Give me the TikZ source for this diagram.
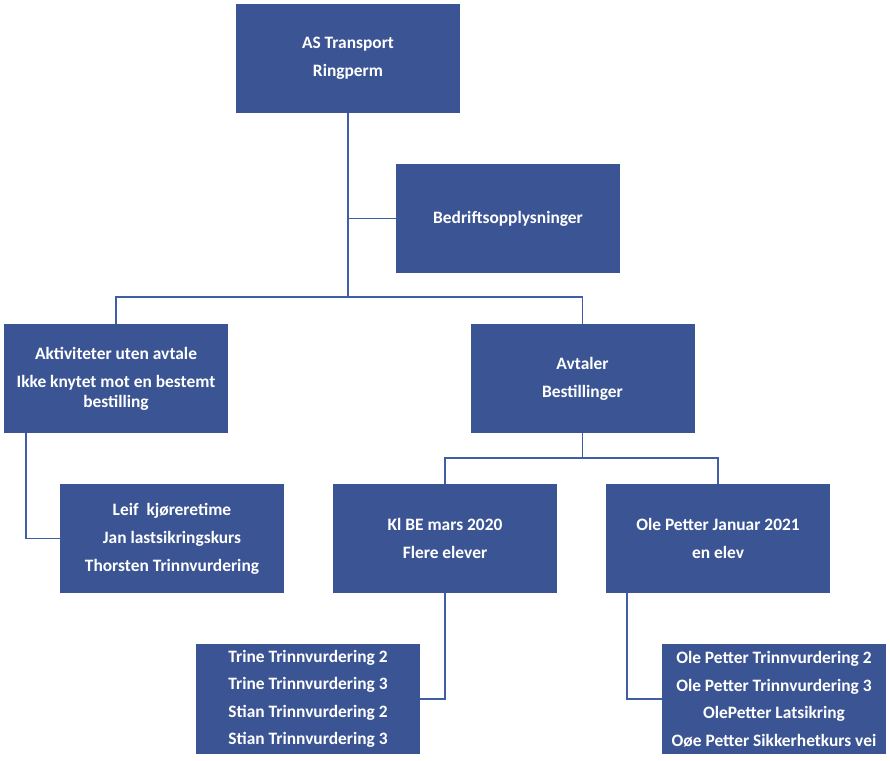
\documentclass[tikz,border=0pt]{standalone}
\usepackage{fontspec}
\setmainfont{Carlito}
\definecolor{CB}{HTML}{3B5494}
\definecolor{CL}{HTML}{3F5EA6}
\tikzset{
	box/.style = {draw=none, fill=CB, text=white, minimum width=224pt, minimum height=109pt,
		inner sep=0pt, align=center, font=\fontsize{17.4}{20}\selectfont\bfseries},
	ln/.style  = {draw=CL, line width=1.6pt},
}

\begin{document}
\begin{tikzpicture}[x=1pt, y=1pt]
	
	\useasboundingbox (0,0) rectangle (890,-760);
	
	%%═══════════════════════════════════════════════════════════════════
	%% BOXES  (centres in px of the 890 x 760 frame)
	%%═══════════════════════════════════════════════════════════════════
	
	%% top level ───────────────────────────────────────────────────────
	\node[box] (root) at (348, -58.5) {AS Transport\\[8pt] Ringperm};
	\node[box] (bed)  at (508, -218.5){Bedriftsopplysninger};
	
	%% second level ────────────────────────────────────────────────────
	\node[box] (akt) at (116, -378.5)
	{Aktiviteter uten avtale\\[8pt] Ikke knytet mot en bestemt\\ bestilling};
	\node[box] (avt) at (582.5, -378.5){Avtaler\\[8pt] Bestillinger};
	
	%% third level ─────────────────────────────────────────────────────
	\node[box] (leif) at (172, -538.5)
	{Leif\ \ kjøreretime\\[8pt] Jan lastsikringskurs\\[8pt] Thorsten Trinnvurdering};
	\node[box] (klbe) at (445, -538.5){Kl BE mars 2020\\[8pt] Flere elever};
	\node[box] (olep) at (718, -538.5){Ole Petter Januar 2021\\[8pt] en elev};
	
	%% fourth level ────────────────────────────────────────────────────
	\node[box, minimum height=110pt] (trine) at (308, -699)
	{Trine Trinnvurdering 2\\[7.5pt] Trine Trinnvurdering 3\\[7.5pt]
		Stian Trinnvurdering 2\\[7.5pt] Stian Trinnvurdering 3};
	\node[box, minimum height=110pt] (olet) at (774, -699)
	{Ole Petter Trinnvurdering 2\\[7.5pt] Ole Petter Trinnvurdering 3\\[7.5pt]
		OlePetter Latsikring\\[7.5pt] Oøe Petter Sikkerhetkurs vei};
	
	%%═══════════════════════════════════════════════════════════════════
	%% CONNECTORS
	%%═══════════════════════════════════════════════════════════════════
	
	\coordinate (j1) at (348, -297);
	\draw[ln] (root.south) -- (j1);
	\draw[ln] (bed.west) -- (bed.west -| root.south);
	\draw[ln] (akt.north) |- (j1) -| (avt.north);
	
	\draw[ln] (avt.south) -- ++(0,-25) coordinate (j2);
	\draw[ln] (klbe.north) |- (j2) -| (olep.north);
	
	\draw[ln] ([xshift=22pt]akt.south west) |- (leif.west);
	\draw[ln] (klbe.south) |- (trine.east);
	\draw[ln] ([xshift=21pt]olep.south west) |- (olet.west);
	
\end{tikzpicture}
\end{document}
